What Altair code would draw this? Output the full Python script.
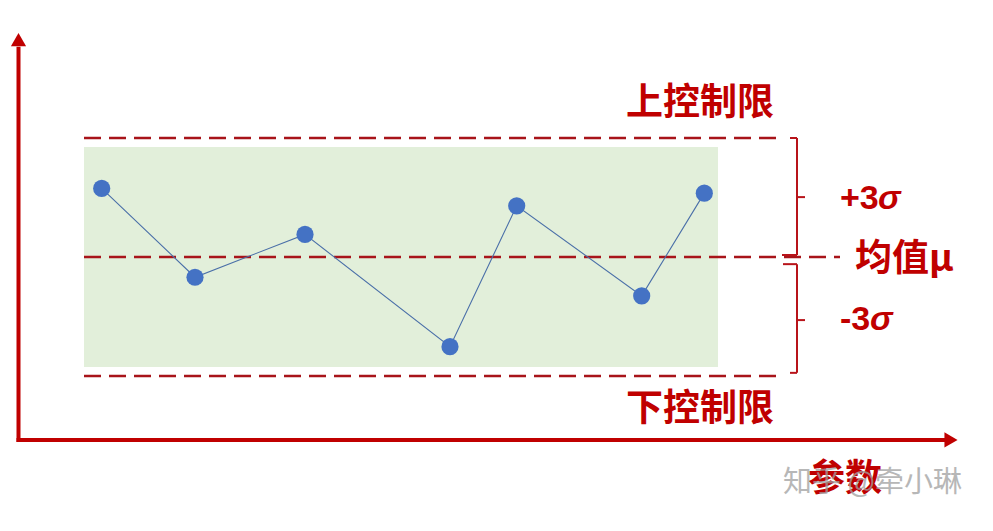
import altair as alt
import pandas as pd

# ---- data (x in horizontal layout units, y in sigma units; mean = 0) ----
pt_x = [101.7, 195, 305, 450, 516.7, 641.7, 704.3]
pt_y = [1.73, -0.51, 0.57, -2.26, 1.29, -0.98, 1.61]

band_x = [84, 718]
band_y = [-2.77, 2.77]

limit_names = ["UCL", "mean", "LCL"]
limit_y = [3.0, 0.0, -3.0]
limit_x0 = [84, 84, 84]
limit_x1 = [778, 840, 778]

# brackets (solid segments): x, x2, y, y2
br_x = [790, 797, 797, 797, 783, 797, 797, 797]
br_x2 = [797, 797, 782, 805, 797, 797, 790, 805]
br_y = [3.0, 3.0, 0.05, 1.51, -0.18, -0.18, -2.92, -1.59]
br_y2 = [3.0, 0.05, 0.05, 1.51, -0.18, -2.92, -2.92, -1.59]

# axes
axis_x = [18.5, 18.5]
axis_x2 = [18.5, 948]
axis_y = [-4.61, -4.61]
axis_y2 = [5.25, -4.61]
arrow_x = [18.5, 951]
arrow_y = [5.48, -4.61]
arrow_shape = ["triangle-up", "triangle-right"]

label_text = ["上控制限", "下控制限", "均值μ", "参数"]
label_x = [700, 700, 855, 808]
label_y = [3.86, -3.86, -0.08, -5.62]
label_align = ["center", "center", "left", "left"]

sig_text = ["+3", "-3"]
sig_x = [840, 840]
sig_y = [1.46, -1.59]
sigma_x = [878, 870]

watermark = "知乎 @牵小琳"

RED = "#C00000"
DASH = "#A8141A"

xs = alt.Scale(domain=[8, 985], nice=False, zero=False)
ys = alt.Scale(domain=[-6.705, 6.277], nice=False, zero=False)
X = lambda f: alt.X(f, type="quantitative", scale=xs, axis=None)
Y = lambda f: alt.Y(f, type="quantitative", scale=ys, axis=None)

band = alt.Chart(pd.DataFrame({"x": [band_x[0]], "x2": [band_x[1]],
                               "y": [band_y[0]], "y2": [band_y[1]]})).mark_rect(
    color="#E2EFDA").encode(x=X("x"), x2="x2", y=Y("y"), y2="y2")

limits = alt.Chart(pd.DataFrame({"name": limit_names, "y": limit_y,
                                 "x": limit_x0, "x2": limit_x1})).mark_rule(
    color=DASH, strokeWidth=2.4, strokeDash=[17, 8]).encode(x=X("x"), x2="x2", y=Y("y"))

pts_df = pd.DataFrame({"x": pt_x, "y": pt_y, "i": list(range(len(pt_x)))})
line = alt.Chart(pts_df).mark_line(color="#4A6FA8", strokeWidth=1.1).encode(
    x=X("x"), y=Y("y"), order="i:Q")
points = alt.Chart(pts_df).mark_circle(size=295, color="#4472C4", opacity=1).encode(
    x=X("x"), y=Y("y"))

brackets = alt.Chart(pd.DataFrame({"x": br_x, "x2": br_x2, "y": br_y, "y2": br_y2})).mark_rule(
    color="#B8141A", strokeWidth=2).encode(x=X("x"), x2="x2", y=Y("y"), y2="y2")

axes = alt.Chart(pd.DataFrame({"x": axis_x, "x2": axis_x2, "y": axis_y, "y2": axis_y2})).mark_rule(
    color=RED, strokeWidth=4, strokeCap="square").encode(x=X("x"), x2="x2", y=Y("y"), y2="y2")

arrows = alt.Chart(pd.DataFrame({"x": arrow_x, "y": arrow_y, "s": arrow_shape})).mark_point(
    filled=True, color=RED, size=230, opacity=1).encode(
    x=X("x"), y=Y("y"),
    shape=alt.Shape("s:N", scale=alt.Scale(domain=arrow_shape, range=arrow_shape), legend=None))

labels = []
for t, x, y, a in zip(label_text, label_x, label_y, label_align):
    labels.append(alt.Chart(pd.DataFrame({"t": [t], "x": [x], "y": [y]})).mark_text(
        font="Noto Sans CJK SC", fontWeight="bold", fontSize=37, color=RED,
        align=a, baseline="middle").encode(x=X("x"), y=Y("y"), text="t:N"))

sig = alt.Chart(pd.DataFrame({"t": sig_text, "x": sig_x, "y": sig_y})).mark_text(
    font="Liberation Sans", fontWeight="bold", fontSize=34, color=RED,
    align="left", baseline="middle").encode(x=X("x"), y=Y("y"), text="t:N")
sigma = alt.Chart(pd.DataFrame({"t": ["σ", "σ"], "x": sigma_x, "y": sig_y})).mark_text(
    font="Liberation Sans", fontWeight="bold", fontStyle="italic", fontSize=34, color=RED,
    align="left", baseline="middle").encode(x=X("x"), y=Y("y"), text="t:N")

wm = alt.Chart(pd.DataFrame({"t": [watermark], "x": [783], "y": [-5.69]})).mark_text(
    font="Noto Sans CJK SC", fontSize=29, color="#A0A0A0", opacity=0.75,
    align="left", baseline="middle").encode(x=X("x"), y=Y("y"), text="t:N")

chart = alt.layer(band, limits, line, points, brackets, axes, arrows, *labels, sig, sigma, wm).properties(
    width=977, height=515, padding=0, autosize=alt.AutoSizeParams(type="none"),
    background="white"
).configure_view(stroke=None)

chart.save("out.html", embed_options={"renderer": "svg", "actions": False})
